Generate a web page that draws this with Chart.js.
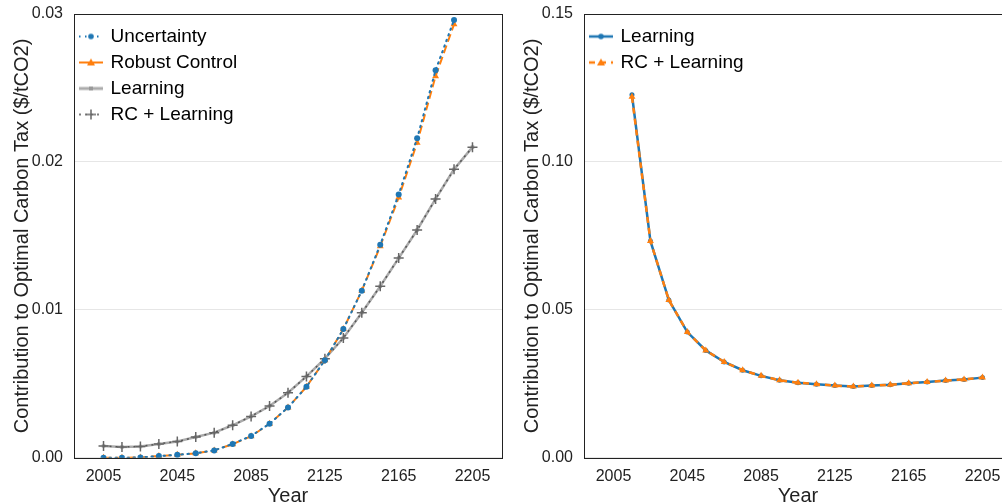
<!DOCTYPE html>
<html>
<head>
<meta charset="utf-8">
<script src="https://cdn.jsdelivr.net/npm/chart.js@4.4.1/dist/chart.umd.min.js"></script>
<style>
html, body { margin: 0; padding: 0; background: #fff; overflow: hidden; width: 1002px; height: 502px; }
.pane { position: absolute; top: 0; width: 512px; height: 520px; }
</style>
</head>
<body>
<div class="pane" style="left:0"><canvas id="left"></canvas></div>
<div class="pane" style="left:510px"><canvas id="right"></canvas></div>
<script>
// left panel
const years = [2005, 2015, 2025, 2035, 2045, 2055, 2065, 2075, 2085, 2095, 2105,
               2115, 2125, 2135, 2145, 2155, 2165, 2175, 2185, 2195, 2205];
const uncertainty = [0, 0, 0.00002, 0.00012, 0.0002, 0.00031, 0.0005, 0.00094, 0.00148, 0.0023,
                     0.0034, 0.0048, 0.0066, 0.0087, 0.0113, 0.0144, 0.0178, 0.0216, 0.0262, 0.0296];
const robustControl = [0, 0, 0.00002, 0.00012, 0.0002, 0.0003, 0.0005, 0.00092, 0.00146, 0.0023,
                       0.0034, 0.0048, 0.0066, 0.0087, 0.0113, 0.0143, 0.0176, 0.0213, 0.0258, 0.0293];
const learning = [0.0008, 0.00073, 0.00077, 0.00094, 0.0011, 0.0014, 0.0017, 0.0022, 0.0028, 0.0035,
                  0.0044, 0.0055, 0.0067, 0.0081, 0.0098, 0.0116, 0.0135, 0.0154, 0.0175, 0.0195, 0.021];
const rcLearning = [0.0008, 0.00073, 0.00077, 0.00094, 0.0011, 0.0014, 0.0017, 0.0022, 0.0028, 0.0035,
                    0.0044, 0.0055, 0.0067, 0.0081, 0.0098, 0.0116, 0.0135, 0.0154, 0.0175, 0.0195, 0.021];
const leftYTicks = [0, 0.01, 0.02, 0.03];

// right panel
const rightYears = [2015, 2025, 2035, 2045, 2055, 2065, 2075, 2085, 2095, 2105,
                    2115, 2125, 2135, 2145, 2155, 2165, 2175, 2185, 2195, 2205];
const rightLearning = [0.1227, 0.0733, 0.0533, 0.0425, 0.0363, 0.0324, 0.0296, 0.0277, 0.0262, 0.0254,
                       0.0249, 0.0244, 0.0241, 0.0244, 0.0247, 0.0252, 0.0256, 0.0261, 0.0265, 0.0271];
const rightRcLearning = [0.122, 0.0733, 0.0533, 0.0425, 0.0363, 0.0324, 0.0296, 0.0277, 0.0262, 0.0254,
                         0.0249, 0.0244, 0.0241, 0.0244, 0.0247, 0.0252, 0.0256, 0.0261, 0.0265, 0.0271];
const rightYTicks = [0, 0.05, 0.10, 0.15];

const xTicks = [2005, 2045, 2085, 2125, 2165, 2205];

const BLUE = '#1f77b4', ORANGE = '#ff7f0e', LIGHT = '#ababab', DARK = '#555555';

Chart.defaults.font.family = '"Liberation Sans", Arial, sans-serif';
Chart.defaults.color = '#222';

function pairs(xs, ys) {
  return ys.map((v, i) => ({x: xs[i], y: v}));
}

// little legend samples: line + marker
function swatch(color, dash, lw, marker, mcolor) {
  const c = document.createElement('canvas');
  c.width = 24; c.height = 14;
  const g = c.getContext('2d');
  g.strokeStyle = color; g.lineWidth = lw; g.setLineDash(dash);
  g.beginPath(); g.moveTo(0, 7); g.lineTo(24, 7); g.stroke();
  g.setLineDash([]);
  g.fillStyle = mcolor; g.strokeStyle = mcolor;
  if (marker == 'circle') {
    g.beginPath(); g.arc(12, 7, 2.8, 0, Math.PI * 2); g.fill();
  } else if (marker == 'triangle') {
    g.beginPath(); g.moveTo(12, 3); g.lineTo(16, 10); g.lineTo(8, 10); g.closePath(); g.fill();
  } else if (marker == 'rect') {
    g.fillRect(10, 5, 4, 4);
  } else if (marker == 'cross') {
    g.lineWidth = 1.5;
    g.beginPath(); g.moveTo(7, 7); g.lineTo(17, 7); g.moveTo(12, 2); g.lineTo(12, 12); g.stroke();
  }
  return c;
}

const frame = {
  id: 'frame',
  beforeDatasetsDraw(chart) {
    const a = chart.chartArea, ctx = chart.ctx;
    ctx.save();
    ctx.strokeStyle = '#222';
    ctx.lineWidth = 1;
    ctx.strokeRect(Math.round(a.left) + 0.5, Math.round(a.top) + 0.5,
                   Math.round(a.right - a.left), Math.round(a.bottom - a.top));
    ctx.restore();
  }
};

function options(yTicks, samples) {
  return {
    responsive: true,
    maintainAspectRatio: false,
    animation: false,
    layout: {padding: {top: 14, right: 10, left: 0, bottom: 0}},
    plugins: {
      tooltip: {enabled: false},
      legend: {
        position: 'chartArea',
        align: 'start',
        title: {display: true, text: ' ', font: {size: 1, lineHeight: 1}, padding: {top: 0, bottom: 19}},
        labels: {
          font: {size: 19},
          color: '#000',
          usePointStyle: true,
          pointStyleWidth: 20,
          padding: 7,
          generateLabels(chart) {
            const items = Chart.defaults.plugins.legend.labels.generateLabels(chart);
            items.forEach(it => { it.pointStyle = samples[it.datasetIndex]; });
            return items;
          },
          sort: (a, b) => a.datasetIndex - b.datasetIndex
        }
      }
    },
    scales: {
      x: {
        type: 'linear',
        min: 1989,
        max: 2221,
        afterBuildTicks: s => { s.ticks = xTicks.map(v => ({value: v})); },
        ticks: {font: {size: 16}, padding: 9, maxRotation: 0, autoSkip: false, callback: v => String(v)},
        grid: {display: false, drawTicks: false},
        border: {display: false},
        title: {display: true, text: 'Year', font: {size: 20, lineHeight: 1}, padding: {top: -9, bottom: 14}}
      },
      y: {
        min: 0,
        max: yTicks[yTicks.length - 1],
        afterBuildTicks: s => { s.ticks = yTicks.map(v => ({value: v})); },
        afterFit: s => { s.width = 74; s.paddingTop = 0; s.paddingBottom = 0; },
        ticks: {font: {size: 16}, padding: 11, callback: v => Number(v).toFixed(2)},
        grid: {color: '#e6e6e6', drawTicks: false},
        border: {display: false},
        title: {display: true, text: 'Contribution to Optimal Carbon Tax ($/tCO2)', font: {size: 20}, padding: {top: 10}}
      }
    }
  };
}

new Chart(document.getElementById('left'), {
  type: 'line',
  data: {
    datasets: [{
      label: 'Uncertainty',
      data: pairs(years, uncertainty),
      borderColor: BLUE, borderWidth: 2, borderDash: [1.5, 4.5], borderCapStyle: 'round',
      pointStyle: 'circle', pointRadius: 3, pointBackgroundColor: BLUE, pointBorderColor: BLUE, pointBorderWidth: 0,
      order: 0
    }, {
      label: 'Robust Control',
      data: pairs(years, robustControl),
      borderColor: ORANGE, borderWidth: 2, borderDash: [8, 4],
      pointStyle: 'triangle', pointRadius: 4, pointBackgroundColor: ORANGE, pointBorderColor: ORANGE, pointBorderWidth: 0,
      order: 1
    }, {
      label: 'Learning',
      data: pairs(years, learning),
      borderColor: LIGHT, borderWidth: 2.5,
      pointStyle: 'rect', pointRadius: 2.5, pointBackgroundColor: LIGHT, pointBorderColor: LIGHT, pointBorderWidth: 0,
      order: 3
    }, {
      label: 'RC + Learning',
      data: pairs(years, rcLearning),
      borderColor: DARK, borderWidth: 1.5, borderDash: [2, 4],
      pointStyle: 'cross', pointRadius: 5, pointBorderColor: '#666', pointBorderWidth: 1.5,
      order: 2
    }]
  },
  options: options(leftYTicks, [
    swatch(BLUE, [1.5, 4.5], 2, 'circle', BLUE),
    swatch(ORANGE, [], 2, 'triangle', ORANGE),
    swatch(LIGHT, [], 3, 'rect', '#999'),
    swatch(DARK, [2, 4], 1.5, 'cross', '#666')
  ]),
  plugins: [frame]
});

new Chart(document.getElementById('right'), {
  type: 'line',
  data: {
    datasets: [{
      label: 'Learning',
      data: pairs(rightYears, rightLearning),
      borderColor: BLUE, borderWidth: 2.5,
      pointStyle: 'circle', pointRadius: 2.5, pointBackgroundColor: BLUE, pointBorderColor: BLUE, pointBorderWidth: 0,
      order: 1
    }, {
      label: 'RC + Learning',
      data: pairs(rightYears, rightRcLearning),
      borderColor: ORANGE, borderWidth: 2.5, borderDash: [6, 5],
      pointStyle: 'triangle', pointRadius: 4, pointBackgroundColor: ORANGE, pointBorderColor: ORANGE, pointBorderWidth: 0,
      order: 0
    }]
  },
  options: options(rightYTicks, [
    swatch(BLUE, [], 2.5, 'circle', BLUE),
    swatch(ORANGE, [6, 5], 2.5, 'triangle', ORANGE)
  ]),
  plugins: [frame]
});
</script>
</body>
</html>
